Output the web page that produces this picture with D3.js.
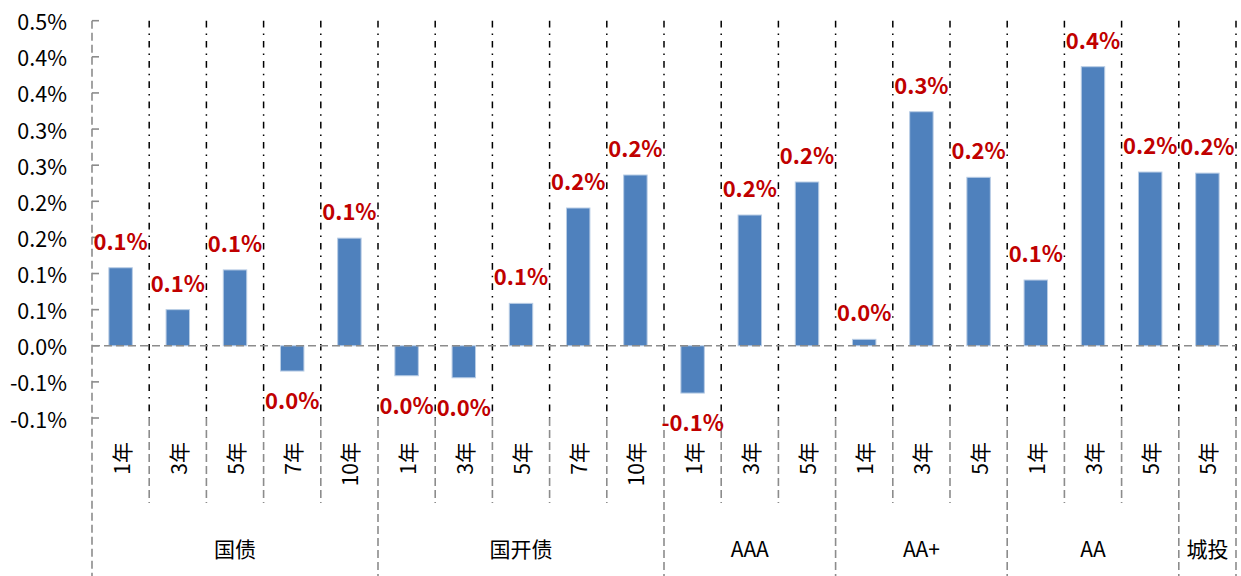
<!DOCTYPE html>
<html>
<head>
<meta charset="utf-8">
<script src="https://cdn.jsdelivr.net/npm/d3@7"></script>
<style>
  html, body { margin: 0; padding: 0; background: #ffffff; }
  svg { display: block; font-family: "Noto Sans CJK SC", "Noto Sans", sans-serif; }
</style>
</head>
<body>
<svg id="chart" width="1241" height="576"></svg>
<script>
// ---- data ----
const groups = ["国债", "国开债", "AAA", "AA+", "AA", "城投"];
const groupTenors = [
  ["1年", "3年", "5年", "7年", "10年"],
  ["1年", "3年", "5年", "7年", "10年"],
  ["1年", "3年", "5年"],
  ["1年", "3年", "5年"],
  ["1年", "3年", "5年"],
  ["5年"]
];
// values in percent
const values = [
  0.108, 0.050, 0.105, -0.035, 0.149,
  -0.0415, -0.0443, 0.0587, 0.1907, 0.2364,
  -0.0655, 0.181, 0.2267,
  0.0089, 0.324, 0.2332,
  0.091, 0.3863, 0.2405,
  0.239
];
const tickValues = [-0.1, -0.05, 0, 0.05, 0.1, 0.15, 0.2, 0.25, 0.3, 0.35, 0.4, 0.45];

// ---- derived ----
const cats = [];
groups.forEach((g, gi) => groupTenors[gi].forEach(t => cats.push({group: g, gi, tenor: t})));
cats.forEach((c, i) => c.value = values[i]);

const fmt = v => {
  const r = Math.sign(v) * Math.round(Math.abs(v) * 10 + 1e-9) / 10;
  return (r === 0 ? 0 : r).toFixed(1) + "%";
};

const svg = d3.select("#chart");
const M = { left: 92, right: 1236, top: 20.7, plotBottom: 418, tickBottom: 503, groupBottom: 576 };

const x = d3.scaleBand().domain(d3.range(cats.length)).range([M.left, M.right]).padding(0);
const y = d3.scaleLinear().domain([-0.1, 0.45]).range([M.plotBottom, M.top]);
const bw = x.bandwidth();
const barW = bw * 0.41;
const xb = i => i < cats.length ? x(i) : M.right;

const gray = "#8c8c8c";

// vertical gridlines in plot (black dash-dot)
svg.append("g").selectAll("line").data(d3.range(1, cats.length + 1)).join("line")
  .attr("x1", xb).attr("x2", xb)
  .attr("y1", y(0.45)).attr("y2", y(-0.1))
  .attr("stroke", "#000").attr("stroke-width", 1.5)
  .attr("stroke-dasharray", "6.7,6,1.5,6");

// category dividers below plot (gray dashed)
const groupStarts = [];
{ let k = 0; groupTenors.forEach(t => { groupStarts.push(k); k += t.length; }); groupStarts.push(k); }
const isGroupBound = i => groupStarts.includes(i);
svg.append("g").selectAll("line").data(d3.range(0, cats.length + 1)).join("line")
  .attr("x1", xb).attr("x2", xb)
  .attr("y1", i => i === 0 ? M.top : M.plotBottom)
  .attr("y2", i => isGroupBound(i) ? M.groupBottom : M.tickBottom)
  .attr("stroke", gray).attr("stroke-width", 1.6)
  .attr("stroke-dasharray", "8,4");

// y axis tick marks (inside, to the right)
svg.append("g").selectAll("line").data(tickValues).join("line")
  .attr("x1", M.left).attr("x2", M.left + 7)
  .attr("y1", d => y(d)).attr("y2", d => y(d))
  .attr("stroke", gray).attr("stroke-width", 1.6);

// y tick labels
svg.append("g").selectAll("text").data(tickValues).join("text")
  .attr("x", 67).attr("y", d => y(d))
  .attr("text-anchor", "end").attr("dominant-baseline", "central")
  .attr("font-size", 21.5).attr("fill", "#000")
  .text(fmt);

// bars
svg.append("g").selectAll("rect").data(cats).join("rect")
  .attr("x", (d, i) => x(i) + (bw - barW) / 2)
  .attr("width", barW)
  .attr("y", d => y(Math.max(0, d.value)))
  .attr("height", d => Math.abs(y(d.value) - y(0)))
  .attr("fill", "#4F81BD")
  .attr("stroke", "#B9CDE5").attr("stroke-width", 1);

// zero line
svg.append("line")
  .attr("x1", M.left).attr("x2", M.right)
  .attr("y1", y(0)).attr("y2", y(0))
  .attr("stroke", gray).attr("stroke-width", 1.6)
  .attr("stroke-dasharray", "8,4");

// data labels
svg.append("g").selectAll("text").data(cats).join("text")
  .attr("x", (d, i) => x(i) + bw / 2)
  .attr("y", d => d.value >= 0 ? y(d.value) - 28 : y(d.value) + 28)
  .attr("text-anchor", "middle").attr("dominant-baseline", "central")
  .attr("font-size", 22).attr("font-weight", "bold").attr("fill", "#C00000")
  .text(d => fmt(d.value));

// category (tenor) labels, rotated
svg.append("g").selectAll("text").data(cats).join("text")
  .attr("transform", (d, i) => `translate(${x(i) + bw / 2},442) rotate(-90)`)
  .attr("text-anchor", "end").attr("dominant-baseline", "central")
  .attr("font-size", 21).attr("fill", "#000")
  .text(d => d.tenor);

// group labels
svg.append("g").selectAll("text").data(groups).join("text")
  .attr("x", (g, gi) => (x(groupStarts[gi]) + xb(groupStarts[gi + 1])) / 2)
  .attr("y", 548)
  .attr("text-anchor", "middle").attr("dominant-baseline", "central")
  .attr("font-size", 21).attr("fill", "#000")
  .text(d => d);
</script>
</body>
</html>
